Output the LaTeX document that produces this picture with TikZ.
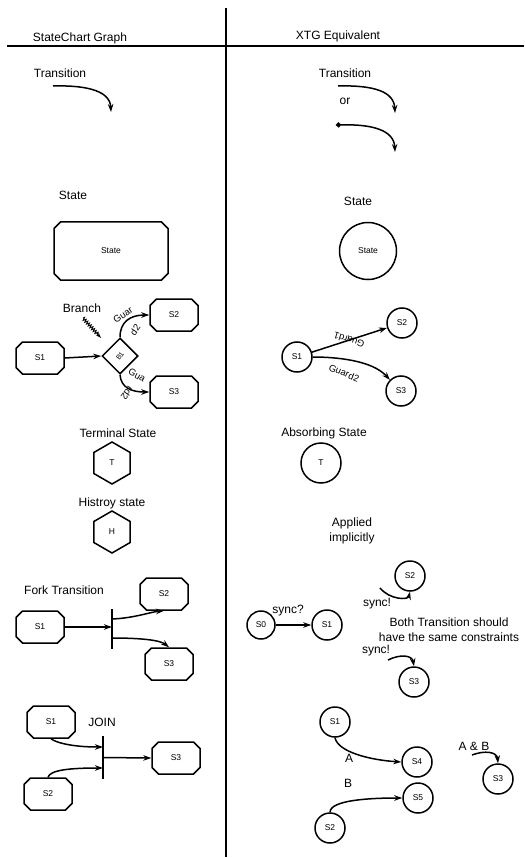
\documentclass[tikz,border=0pt]{standalone}
\usepackage{fontspec}
\setmainfont{Liberation Sans}
\usepackage{graphicx}
\usetikzlibrary{positioning, arrows.meta, shapes.geometric, shapes.misc, decorations.pathmorphing}

\begin{document}
\begin{tikzpicture}[x=1pt, y=-1pt,
        font=\fontsize{12}{15}\selectfont,
        line width=1.5pt,
        arr/.style={-{Stealth[length=8pt, width=5.5pt]}, line width=1.5pt},
        sbox/.style={chamfered rectangle, chamfered rectangle xsep=5pt, draw, line width=1.5pt,
            minimum width=48pt, minimum height=32pt, inner sep=0pt, font=\fontsize{8.5}{10}\selectfont},
        xstate/.style={circle, draw, line width=1.5pt, minimum size=30pt, inner sep=0pt,
            font=\fontsize{8.5}{10}\selectfont},
        hstate/.style={regular polygon, regular polygon sides=6, shape border rotate=30, draw,
            line width=1.5pt, minimum size=42pt, inner sep=0pt, font=\fontsize{8.5}{10}\selectfont},
        grd/.style={font=\fontsize{9.5}{11}\selectfont, inner sep=0pt},
        barnode/.style={inner sep=0pt, minimum width=0pt}
    ]
    \useasboundingbox (0,0) rectangle (524,858);

    % table rules
    \draw[line width=1.2pt] (7,46) -- (524,46);
    \draw[line width=1.2pt] (226,8) -- (226,857);
    \node (hLeft)  at (80,38)  {StateChart Graph};
    \node (hRight) at (338,36) {XTG Equivalent};

    % transitions
    \node (trL) at (60,73) {Transition};
    \coordinate (trLa) at (53,86);
    \coordinate (trLb) at (111,112);
    \draw[arr] (trLa) .. controls (90,85) and (110,92) .. (trLb);

    \node (trR) at (345,73) {Transition};
    \coordinate (trRa) at (338,86);
    \coordinate (trRb) at (395,113);
    \draw[arr] (trRa) .. controls (375,85) and (394,92) .. (trRb);
    \node (orR) at (345,101) {or};
    \coordinate (trRc) at (336,125);
    \coordinate (trRd) at (395,152);
    \draw[{Circle[length=5pt]}-{Stealth[length=8pt, width=5.5pt]}] (trRc) .. controls (372,124) and (394,130) .. (trRd);

    % states
    \node (stL) at (73,195) {State};
    \node[sbox, minimum width=114pt, minimum height=58pt] (stBox) at (111,251) {State};
    \node (stR) at (358,201) {State};
    \node[xstate, minimum size=57pt] (stCirc) at (368,251) {State};

    % branch
    \node (brL) at (82,308) {Branch};
    \coordinate (brA) at (83,318);
    \coordinate (brB) at (101,338);
    \draw[-{Stealth[length=6pt, width=4pt]}, line width=0.9pt, decorate,
        decoration={zigzag, amplitude=1.5pt, segment length=2.5pt, post length=5pt}] (brA) -- (brB);
    \node[sbox] (bS1) at (40,358) {S1};
    \node[diamond, draw, minimum width=36pt, minimum height=36pt, inner sep=0pt,
        font=\fontsize{7}{8}\selectfont] (bB1) at (120,356) {\rotatebox{55}{B1}};
    \node[sbox] (bS2) at (174,315) {S2};
    \node[sbox] (bS3) at (174,392) {S3};
    \draw[arr] (bS1.east) -- (bB1.west);
    \draw[arr] (bB1.north) .. controls (120,322) and (130,315) .. (bS2.west);
    \draw[arr] (bB1.south) .. controls (121,388) and (132,392) .. (bS3.west);
    \node[grd, rotate=35]  (g1a) at (123,315) {Guar};
    \node[grd, rotate=55]  (g1b) at (135,330) {d2};
    \node[grd, rotate=-30] (g2a) at (137,375) {Gua};
    \node[grd, rotate=-125] (g2b) at (127,393) {rd2};

    \node[xstate] (rS1) at (297,357) {S1};
    \node[xstate] (rS2) at (402,323) {S2};
    \node[xstate] (rS3) at (401,391) {S3};
    \draw[arr] (rS1) -- (rS2);
    \draw[arr] (rS1.east) .. controls (335,357) and (372,360) .. (rS3.north west);
    \node[grd, rotate=162] (rg1) at (349,340) {Guard1};
    \node[grd, rotate=-22] (rg2) at (344,373) {Guard2};

    % terminal / history / absorbing
    \node (tmL) at (118,433) {Terminal State};
    \node[hstate] (tmT) at (112,463) {T};
    \node (hsL) at (112,503) {Histroy state};
    \node[hstate] (hsH) at (112,532) {H};
    \node (abR) at (324,433) {Absorbing State};
    \node[xstate, minimum size=40pt] (abT) at (321,463) {T};
    \node[align=center] (apR) at (352,531) {Applied\\implicitly};

    % fork
    \node (fkL) at (64,590) {Fork Transition};
    \node[sbox] (fS1) at (40,627) {S1};
    \node[sbox] (fS2) at (164,594) {S2};
    \node[sbox] (fS3) at (169,664) {S3};
    \node[barnode, minimum height=38pt] (fkBar) at (112,629) {};
    \draw (fkBar.north) -- (fkBar.south);
    \coordinate (fkOut1) at (112,619);
    \coordinate (fkOut2) at (112,638);
    \draw[arr] (fS1.east) -- (fS1.east -| fkBar);
    \draw[arr] (fkOut1) .. controls (135,618) and (150,612) .. (fS2.south);
    \draw[arr] (fkOut2) .. controls (140,638) and (160,640) .. (fS3.north);

    % join
    \node[sbox] (jS1) at (51,722) {S1};
    \node (jnL) at (102,722) {JOIN};
    \node[sbox] (jS2) at (48,794) {S2};
    \node[sbox] (jS3) at (176,758) {S3};
    \node[barnode, minimum height=41pt] (jnBar) at (103,757.5) {};
    \draw (jnBar.north) -- (jnBar.south);
    \coordinate (jnIn1) at (103,747);
    \coordinate (jnIn2) at (103,768);
    \draw[arr] (jS1.south) .. controls (55,742) and (70,747) .. (jnIn1);
    \draw[arr] (jS2.north) .. controls (50,770) and (70,768) .. (jnIn2);
    \draw[arr] (jnBar) -- (jS3.west);

    % synchronisation
    \node[xstate, minimum size=28pt] (sS0) at (261,625) {S0};
    \node (syQ) at (288,611) {sync?};
    \node[xstate] (sS1) at (327,625) {S1};
    \draw[arr] (sS0) -- (sS1);
    \node[xstate] (sS2) at (410,576) {S2};
    \coordinate (syA) at (380,588);
    \draw[arr] (syA) .. controls (390,600) and (408,600) .. (sS2.south);
    \node (syE1) at (377,604) {sync!};
    \node[align=center] (both) at (449,629.5) {Both Transition should\\have the same constraints};
    \node (syE2) at (376,651) {sync!};
    \node[xstate] (sS3) at (414,682) {S3};
    \coordinate (syB) at (388,660);
    \draw[arr] (syB) .. controls (400,654) and (412,655) .. (sS3.north);

    % A and B
    \node[xstate] (aS1) at (335,722) {S1};
    \node[xstate] (aS4) at (417,762) {S4};
    \draw[arr] (aS1.south) .. controls (338,752) and (370,760) .. (aS4.west);
    \node (lblA) at (349,758) {A};
    \node (lblB) at (348,783) {B};
    \node[xstate] (aS5) at (418,798) {S5};
    \node[xstate] (aS2) at (330,828) {S2};
    \draw[arr] (aS2.north) .. controls (330,800) and (370,798) .. (aS5.west);
    \node (lblAB) at (474,746) {A \& B};
    \node[xstate] (abS3) at (498,779) {S3};
    \coordinate (abA) at (472,755);
    \draw[arr] (abA) .. controls (485,750) and (497,752) .. (abS3.north);
\end{tikzpicture}
\end{document}
